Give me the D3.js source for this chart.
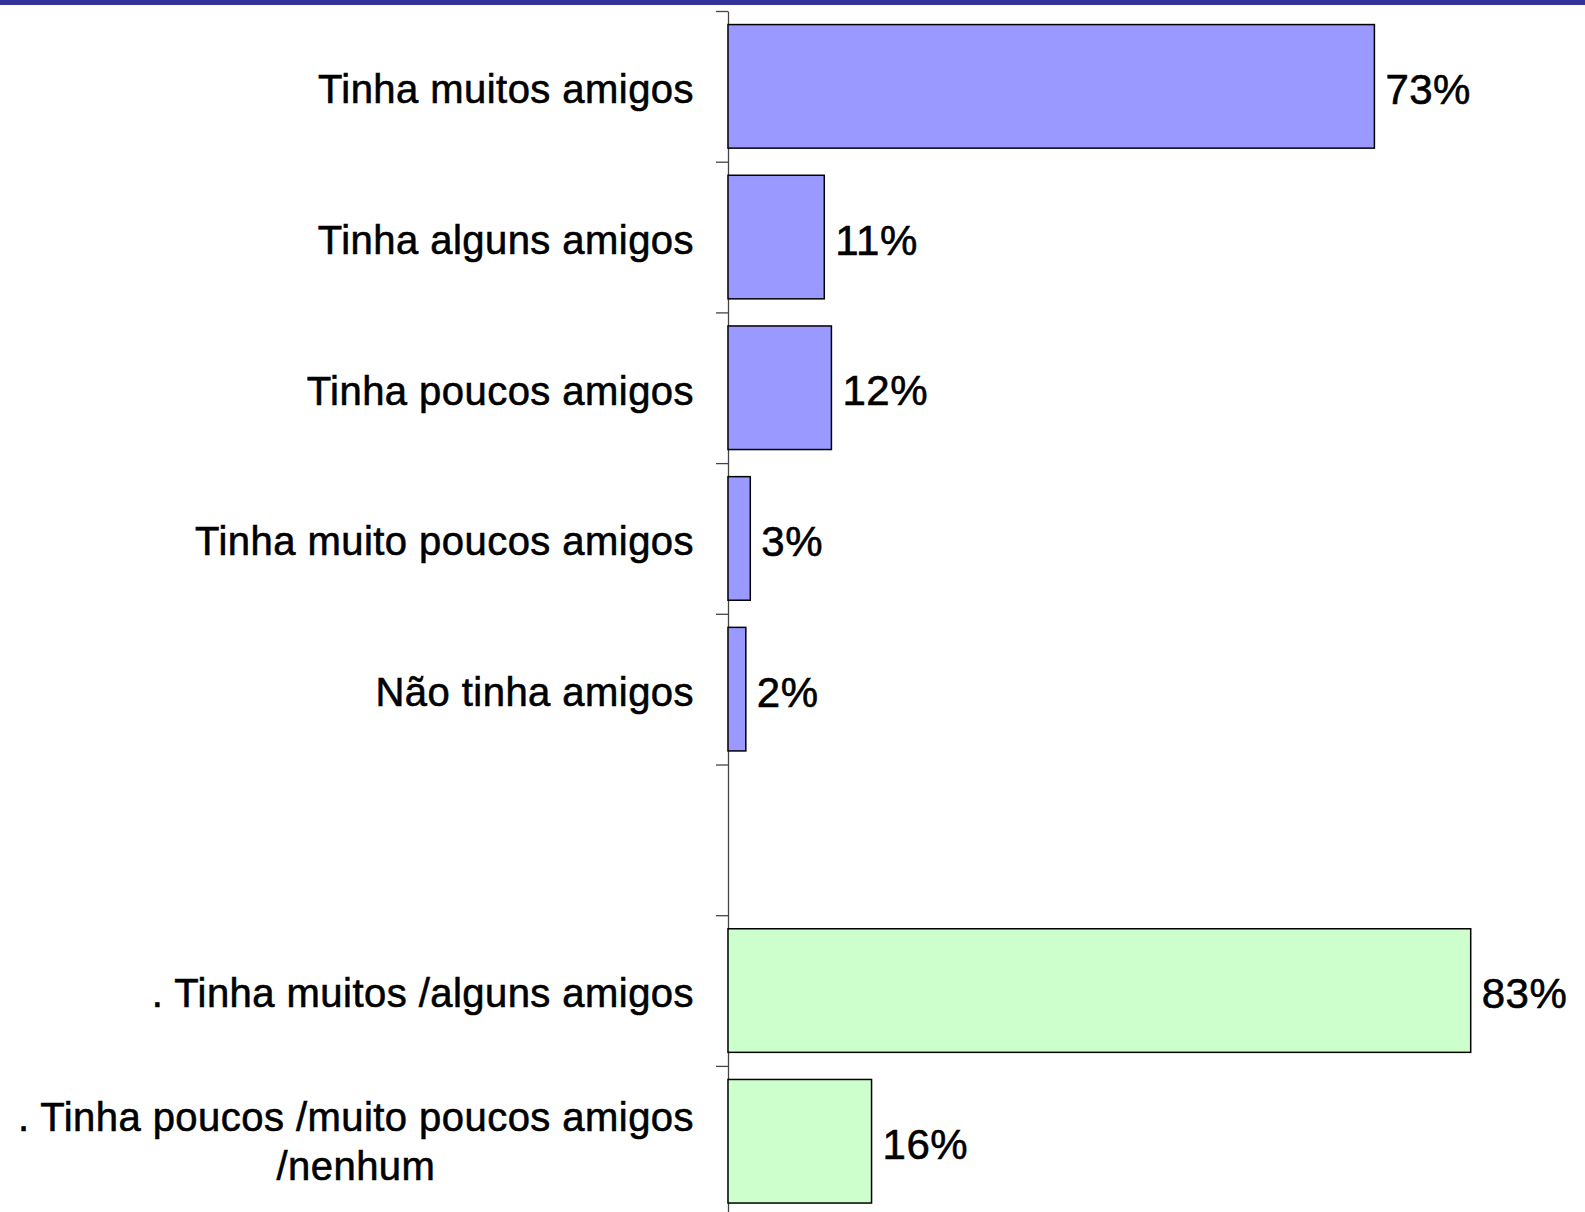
<!DOCTYPE html>
<html>
<head>
<meta charset="utf-8">
<script src="https://cdn.jsdelivr.net/npm/d3@7"></script>
<style>
	body { margin: 0; background: #fff; }
	svg { display: block; }
	text { font-family: "Liberation Sans", Arial, sans-serif; fill: #000; stroke: #000; stroke-width: 0.6px; }
</style>
</head>
<body>
<div id="chart"></div>
<script>
// categories, top to bottom (blank slot is the gap between the two groups)
const categories = [
	["Tinha muitos amigos"],
	["Tinha alguns amigos"],
	["Tinha poucos amigos"],
	["Tinha muito poucos amigos"],
	["Não tinha amigos"],
	[],
	[". Tinha muitos /alguns amigos"],
	[". Tinha poucos /muito poucos amigos", "/nenhum"]
];
// percentages (labels show them rounded)
const values = [72.5, 10.8, 11.6, 2.5, 2.0, null, 83.3, 16.1];
const groups = ["detail", "detail", "detail", "detail", "detail", null, "total", "total"];

const width = 1585;
const height = 1212;

const fillColor = { detail: "#9999FF", total: "#CCFFCC" };

const svg = d3.select("#chart").append("svg")
	.attr("width", width)
	.attr("height", height);

// dark band on top
svg.append("rect")
	.attr("x", 0).attr("y", 0)
	.attr("width", width).attr("height", 5)
	.attr("fill", "#333399");

const axisX = 728;
const plotTop = 11;
const step = 150.7;

const x = d3.scaleLinear().domain([0, 100]).range([axisX, axisX + 891.6]);

const y = d3.scaleBand()
	.domain(d3.range(categories.length))
	.range([plotTop, plotTop + step * categories.length])
	.paddingInner(0.18)
	.paddingOuter(0.09);

// axis with ticks between the categories
const yTicks = d3.scaleLinear().domain([0, categories.length]).range([plotTop, plotTop + step * categories.length]);
const axis = svg.append("g")
	.attr("transform", `translate(${axisX},0)`)
	.call(d3.axisLeft(yTicks)
		.tickValues(d3.range(categories.length + 1))
		.tickFormat("")
		.tickSize(12)
		.tickSizeOuter(0));
axis.selectAll("path, line").attr("stroke", "#444").attr("stroke-width", 1.3);

const rows = d3.range(categories.length).filter((i) => values[i] != null);

svg.append("g").selectAll("rect")
	.data(rows)
	.join("rect")
	.attr("x", x(0))
	.attr("y", (i) => y(i))
	.attr("width", (i) => x(values[i]) - x(0))
	.attr("height", y.bandwidth())
	.attr("fill", (i) => fillColor[groups[i]])
	.attr("stroke", "#000")
	.attr("stroke-width", 1.5);

// value labels
svg.append("g").selectAll("text")
	.data(rows)
	.join("text")
	.attr("x", (i) => x(values[i]) + 11)
	.attr("y", (i) => y(i) + y.bandwidth() / 2)
	.attr("dy", "0.42em")
	.style("font-size", "42px")
	.style("letter-spacing", "0.5px")
	.text((i) => Math.round(values[i]) + "%");

// category labels, right aligned; extra lines centred under the first
const labelRight = 694;
const lineGap = 49;
const labels = svg.append("g")
	.style("font-size", "40px")
	.style("letter-spacing", "0.45px");
categories.forEach((lines, i) => {
	if (!lines.length) return;
	const cy = y(i) + y.bandwidth() / 2;
	const t = labels.append("text");
	const spans = lines.map((s, k) => t.append("tspan")
		.attr("y", cy + (k - (lines.length - 1) / 2) * lineGap)
		.attr("dy", lines.length > 1 ? "0.36em" : "0.42em")
		.text(s));
	if (lines.length === 1) {
		t.attr("text-anchor", "end");
		spans[0].attr("x", labelRight);
	} else {
		const w = d3.max(spans, (s) => s.node().getComputedTextLength());
		t.attr("text-anchor", "middle");
		spans.forEach((s) => s.attr("x", labelRight - w / 2));
	}
});
</script>
</body>
</html>
